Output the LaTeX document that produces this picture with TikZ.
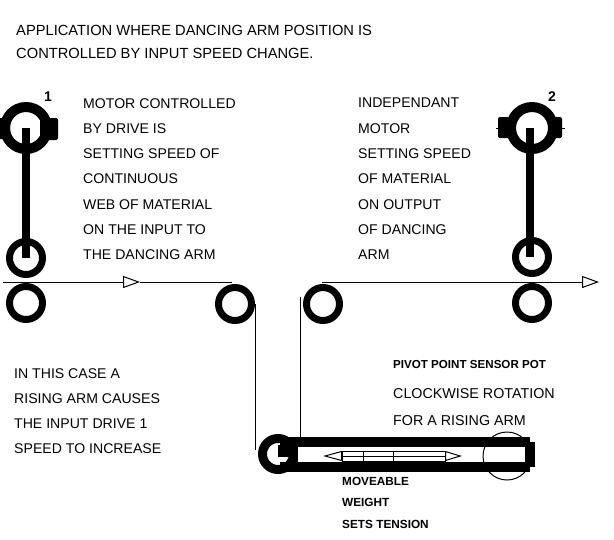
\documentclass[tikz,border=0pt]{standalone}
\usepackage{fontspec}
\setmainfont{Liberation Sans}
\usetikzlibrary{arrows.meta}
\tikzset{
  label/.style={inner sep=0pt,anchor=north west,align=left,font=\fontsize{14.1}{25.3}\selectfont},
  smalllabel/.style={inner sep=0pt,anchor=north west,align=left,font=\fontsize{11.8}{21.5}\selectfont\bfseries},
  number/.style={inner sep=0pt,font=\fontsize{14}{16}\selectfont\bfseries},
  roller/.style={circle,draw=black,line width=7pt,minimum size=33pt,inner sep=0pt},
  motor/.style={circle,draw=black,line width=10pt,minimum size=42pt,inner sep=0pt},
  lug/.style={fill=black,draw=none,rounded corners=2pt},
  arm/.style={line width=8pt,draw=black},
  thin/.style={line width=1pt,draw=black},
  web/.style={thin,-{Triangle[open,length=17pt,width=12pt]}},
  band/.style={fill=black,draw=none}
}
\begin{document}
\begin{tikzpicture}[x=1pt,y=-1pt]
  \useasboundingbox (0,0) rectangle (614,539);
  % heading
  \node[label,font=\fontsize{14.7}{23}\selectfont] (title) at (16,25) {APPLICATION WHERE DANCING ARM POSITION IS\\CONTROLLED BY INPUT SPEED CHANGE.};
  \node[label] (lefttext) at (83,98) {MOTOR CONTROLLED\\BY DRIVE IS\\SETTING SPEED OF\\CONTINUOUS\\WEB OF MATERIAL\\ON THE INPUT TO\\THE DANCING ARM};
  \node[label] (righttext) at (358,98) {INDEPENDANT\\MOTOR\\SETTING SPEED\\OF MATERIAL\\ON OUTPUT\\OF DANCING\\ARM};
  \node[label] (casetext) at (14,368) {IN THIS CASE A\\RISING ARM CAUSES\\THE INPUT DRIVE 1\\SPEED TO INCREASE};
  \node[smalllabel,font=\fontsize{11.6}{14}\selectfont\bfseries] (pivottext) at (393,360) {PIVOT POINT SENSOR POT};
  \node[label,font=\fontsize{14.3}{27}\selectfont] (cwtext) at (393,388) {CLOCKWISE ROTATION\\FOR A RISING ARM};
  \node[smalllabel] (weighttext) at (342,477) {MOVEABLE\\WEIGHT\\SETS TENSION};
  \node[number] (numone) at (48,97) {1};
  \node[number] (numtwo) at (552,97) {2};
  % motors and rollers
  \fill[lug] (-2,118) rectangle (10,139);
  \fill[lug] (40,118) rectangle (58,140);
  \fill[lug] (498,117) rectangle (514,138);
  \fill[lug] (550,117) rectangle (562,138);
  \node[motor] (motorone) at (26,128) {};
  \node[motor] (motortwo) at (532,128) {};
  \node[roller] (pinchone) at (26,258) {};
  \node[roller] (rollone) at (26,303) {};
  \node[roller] (pinchtwo) at (532,257) {};
  \node[roller] (rolltwo) at (532,303) {};
  \node[roller] (inroll) at (235,304) {};
  \node[roller] (outroll) at (323,304) {};
  \draw[thin] (496,128) -- (motortwo);
  \draw[thin] (motortwo) -- (565,128);
  \draw[arm] (motorone.center) -- (pinchone.center);
  \draw[arm] ([xshift=-2pt]motortwo.center) -- ([xshift=-2pt]pinchtwo.center);
  % web of material
  \coordinate (webstart) at (3,282);
  \coordinate (webmid) at (140,282);
  \coordinate (webin) at (232,282);
  \coordinate (webout) at (322,282);
  \coordinate (webend) at (599,282);
  \draw[web] (webstart) -- (webmid);
  \draw[thin] (webmid) -- (webin);
  \draw[web] (webout) -- (webend);
  % dancing arm
  \node[circle,thin,minimum size=48pt,inner sep=0pt] (pot) at (507,456) {};
  \fill[band] (280,437) rectangle (530,447);
  \fill[band] (280,462) rectangle (530,472);
  \fill[band] (525,442) rectangle (535,467);
  \node[circle,draw=black,line width=9pt,minimum size=31pt,inner sep=0pt] (pivot) at (278,454) {};
  \fill[band] (278,445) rectangle (298,457);
  \fill[band] (290,457) rectangle (298,462);
  \coordinate (dropin) at (254,450);
  \coordinate (dropouttop) at (300,297);
  \coordinate (dropout) at (300,437);
  \draw[thin] (inroll.east) -- (inroll.east |- dropin);
  \draw[thin] (dropouttop) -- (dropout);
  % moveable weight
  \node[thin,draw,minimum width=103pt,minimum height=10pt,inner sep=0pt] (weight) at (393.5,456) {};
  \draw[thin] (363,451) -- (363,461);
  \draw[thin] (393,451) -- (393,461);
  \draw[thin,{Triangle[open,length=19pt,width=10pt]}-{Triangle[open,length=17pt,width=10pt]}] (323,456) -- (462,456);
\end{tikzpicture}
\end{document}
